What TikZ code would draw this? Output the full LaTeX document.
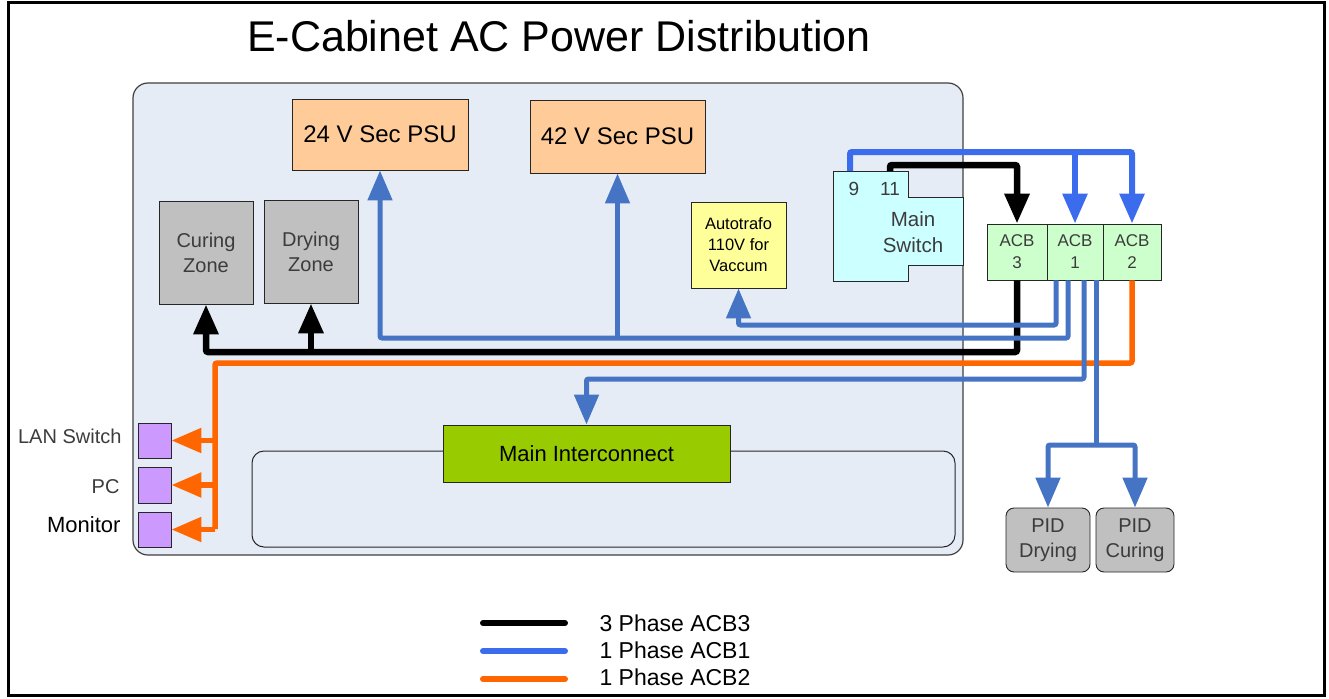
\documentclass[tikz,border=0pt]{standalone}
\usepackage{fontspec}
\setmainfont{Liberation Sans}
\usetikzlibrary{arrows.meta}
\definecolor{cabfill}{RGB}{230,236,246}
\definecolor{psufill}{RGB}{255,204,153}
\definecolor{grayfill}{RGB}{192,192,192}
\definecolor{yelfill}{RGB}{255,255,153}
\definecolor{cyanfill}{RGB}{204,255,255}
\definecolor{acbfill}{RGB}{204,255,204}
\definecolor{mifill}{RGB}{153,204,0}
\definecolor{purfill}{RGB}{204,153,255}
\definecolor{brightblue}{RGB}{59,108,237}
\definecolor{steelblue}{RGB}{70,116,196}
\definecolor{orangeline}{RGB}{255,102,0}
\definecolor{txtgray}{RGB}{60,60,60}
\begin{document}
\begin{tikzpicture}[x=1pt,y=-1pt,
  box/.style={draw=black!85,line width=0.9pt,inner sep=0pt,align=center},
  psubox/.style={box,fill=psufill,font=\fontsize{24}{28}\selectfont},
  zonebox/.style={box,fill=grayfill,text=txtgray,font=\fontsize{20}{25}\selectfont},
  acbbox/.style={box,fill=acbfill,text=txtgray,minimum height=56pt,font=\fontsize{17}{22}\selectfont},
  pidbox/.style={box,fill=grayfill,text=txtgray,rounded corners=8pt,minimum width=84pt,minimum height=64pt,font=\fontsize{20}{25}\selectfont},
  devbox/.style={box,fill=purfill,minimum width=33pt,minimum height=35pt},
  devlabel/.style={anchor=east,text=txtgray,font=\fontsize{20}{24}\selectfont},
  blk/.style={draw=black,line width=6.5pt,rounded corners=2pt},
  bb/.style={draw=brightblue,line width=6pt,rounded corners=2pt},
  sb/.style={draw=steelblue,line width=5pt,rounded corners=2pt},
  orl/.style={draw=orangeline,line width=5.5pt,rounded corners=2pt},
  arr/.style={-{Triangle[length=30pt,width=24pt]}},
  legline/.style={line width=6pt,line cap=round},
  legtext/.style={anchor=west,font=\fontsize{23}{27}\selectfont}
]
\useasboundingbox (0,0) rectangle (1329,698);
\fill[white] (0,0) rectangle (1329,698);
\draw[line width=3pt] (8.5,2.5) rectangle (1324.5,695.5);

% title
\node[anchor=base,font=\fontsize{43}{49}\selectfont] (title) at (559,52) {E-Cabinet AC Power Distribution};

% cabinet
\draw[fill=cabfill,draw=black!75,line width=1.2pt,rounded corners=15pt] (133,83) rectangle (963,555);
\draw[draw=black!85,line width=1pt,rounded corners=12pt] (252,451) rectangle (955,547);

% boxes
\node[psubox,minimum width=176pt,minimum height=71pt] (p24) at (380,134.5) {24 V Sec PSU};
\node[psubox,minimum width=175pt,minimum height=73pt] (p42) at (617.5,136.5) {42 V Sec PSU};
\node[zonebox,minimum width=94pt,minimum height=103pt] (cz) at (206,252.5) {Curing\\Zone};
\node[zonebox,minimum width=94pt,minimum height=103pt] (dz) at (311,251.5) {Drying\\Zone};
\node[box,fill=yelfill,minimum width=95pt,minimum height=86pt,font=\fontsize{16.5}{21}\selectfont] (at) at (738.5,245) {Autotrafo\\110V for\\Vaccum};

% main switch
\draw[fill=cyanfill,draw=black!85,line width=0.9pt] (833,171) -- (908,171) -- (908,197) -- (963,197) -- (963,265) -- (908,265) -- (908,281) -- (833,281) -- cycle;
\node[text=txtgray,font=\fontsize{20.5}{26}\selectfont,align=center] (ms) at (913,232) {Main\\Switch};
\node[text=txtgray,font=\fontsize{19}{22}\selectfont] (n9) at (854,189) {9};
\node[text=txtgray,font=\fontsize{19}{22}\selectfont] (n11) at (890,189) {11};
\coordinate (t9) at (850,171);
\coordinate (t11) at (890,171);

% ACBs
\node[acbbox,minimum width=60pt] (acb3) at (1017,252) {ACB\\3};
\node[acbbox,minimum width=56pt] (acb1) at (1075,252) {ACB\\1};
\node[acbbox,minimum width=58pt] (acb2) at (1132,252) {ACB\\2};

% main interconnect
\node[box,fill=mifill,minimum width=287pt,minimum height=57pt,font=\fontsize{22}{26}\selectfont] (mi) at (586.5,453.5) {Main Interconnect};

% PID
\node[pidbox,minimum width=84pt] (pidd) at (1048,540) {PID\\Drying};
\node[pidbox,minimum width=78pt] (pidc) at (1135,540) {PID\\Curing};

% devices
\node[devbox] (lan) at (154.5,440.5) {};
\node[devbox,minimum height=36pt] (pc) at (154.5,485) {};
\node[devbox] (mon) at (154.5,529.5) {};
\node[devlabel] (lanl) at (125,436) {LAN Switch};
\node[devlabel] (pcl) at (123,487) {PC};
\node[devlabel,text=black,font=\fontsize{22}{26}\selectfont] (monl) at (124,525) {Monitor};

% routing coordinates
\coordinate (ya) at (900,325);
\coordinate (yb) at (700,338);
\coordinate (yc) at (800,379);
\coordinate (yd) at (1096,445);
\coordinate (bk) at (206,352);
\coordinate (oc) at (215,363);
\coordinate (oe) at (215,529);

% orange
\draw[orl] (acb2.south) |- (oc) -- (oe);
\draw[orl,arr] (lan.east -| oc) -- (lan.east);
\draw[orl,arr] (pc.east -| oc) -- (pc.east);
\draw[orl,arr] (mon.east -| oc) -- (mon.east);

% black
\draw[blk,arr] (t11) |- (950,165) -| (acb3.north);
\draw[blk,arr] (acb3.south) |- (bk) -- (cz.south);
\draw[blk,arr] (dz.south |- bk) -- (dz.south);

% bright blue
\draw[bb,arr] (t9) |- (1000,152) -| (acb2.north);
\draw[bb,arr] (acb1.north |- 0,152) -- (acb1.north);

% steel blue
\draw[sb,arr] ([xshift=-19pt]acb1.south) |- (ya) -| (at.south);
\draw[sb,arr] ([xshift=-7pt]acb1.south) |- (yb) -| (p24.south);
\draw[sb,arr] (p42.south |- yb) -- (p42.south);
\draw[sb,arr] ([xshift=9pt]acb1.south) |- (yc) -| (mi.north);
\draw[sb] ([xshift=21pt]acb1.south) -- (yd);
\draw[sb,arr] (yd) -| (pidd.north);
\draw[sb,arr] (yd) -| (pidc.north);

% legend
\coordinate (l1a) at (483,623); \coordinate (l1b) at (565,623);
\coordinate (l2a) at (483,651); \coordinate (l2b) at (565,651);
\coordinate (l3a) at (483,679); \coordinate (l3b) at (565,679);
\draw[legline,black] (l1a) -- (l1b);
\draw[legline,brightblue] (l2a) -- (l2b);
\draw[legline,orangeline] (l3a) -- (l3b);
\node[legtext] (lt1) at (596,623) {3 Phase ACB3};
\node[legtext] (lt2) at (596,650) {1 Phase ACB1};
\node[legtext] (lt3) at (596,677) {1 Phase ACB2};
\end{tikzpicture}
\end{document}
